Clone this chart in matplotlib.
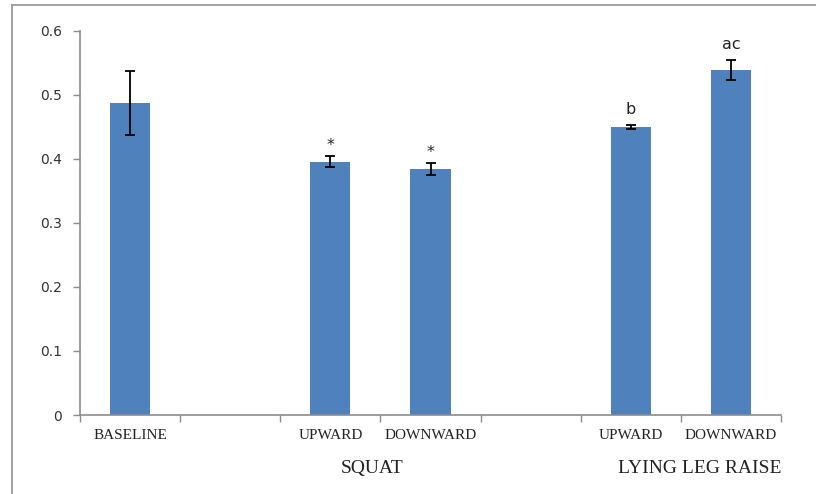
import matplotlib
matplotlib.use("Agg")
import matplotlib.pyplot as plt
from matplotlib.lines import Line2D

# ---- data ----
slots = ["BASELINE", "", "UPWARD", "DOWNWARD", "", "UPWARD", "DOWNWARD"]
values = [0.487, None, 0.396, 0.384, None, 0.450, 0.539]
errors = [0.050, None, 0.008, 0.0095, None, 0.003, 0.016]
marks = ["", "", "*", "*", "", "b", "ac"]
groups = ["SQUAT", "LYING LEG RAISE"]
yticks = [0, 0.1, 0.2, 0.3, 0.4, 0.5, 0.6]

bar_color = "#4F81BD"
axis_color = "#8C8C8C"

fig = plt.figure(figsize=(8.16, 4.94), dpi=100)
ax = fig.add_axes([80/816, 1-415/494, (781-80)/816, (415-31)/494])

xs = [i for i, v in enumerate(values) if v is not None]
vs = [v for v in values if v is not None]
es = [e for e in errors if e is not None]
ax.bar(xs, vs, width=0.4, color=bar_color, zorder=2)
ax.errorbar(xs, vs, yerr=es, fmt="none", ecolor="black", elinewidth=1.3,
            capsize=3.3, capthick=1.3, zorder=3)

for i, (v, e, m) in enumerate(zip(values, errors, marks)):
    if v is None or not m:
        continue
    ax.annotate(m, xy=(i, v + e), xytext=(0, 11 if m != "*" else 8),
                textcoords="offset points", ha="center", va="center",
                fontsize=11.5, family="DejaVu Sans", color="#222222")

ax.set_xlim(-0.5, len(slots) - 0.5)
ax.set_ylim(0, 0.6)
ax.set_yticks(yticks)
ax.set_yticklabels([("%g" % t) for t in yticks], family="DejaVu Sans",
                   fontsize=10, color="#333333")
ax.set_xticks([i - 0.5 for i in range(len(slots) + 1)])
ax.set_xticklabels([])
ax.set_xticks(range(len(slots)), minor=True)
ax.set_xticklabels(slots, minor=True, family="Liberation Serif",
                   fontsize=11, color="#222222")
ax.tick_params(axis="x", which="minor", length=0, pad=10)
ax.tick_params(axis="x", which="major", length=5, direction="out",
               color=axis_color, width=1)
ax.tick_params(axis="y", length=5, direction="out", color=axis_color,
               width=1, pad=8)

for s in ["top", "right"]:
    ax.spines[s].set_visible(False)
for s in ["left", "bottom"]:
    ax.spines[s].set_color(axis_color)
    ax.spines[s].set_linewidth(1.2)

# group labels
ax.text((372-80)/701, (415-468)/384, groups[0], transform=ax.transAxes,
        ha="center", va="center", family="Liberation Serif", fontsize=14,
        color="#222222")
ax.text(1.0, (415-468)/384, groups[1], transform=ax.transAxes,
        ha="right", va="center", family="Liberation Serif", fontsize=14,
        color="#222222")

# chart border (left and top visible)
fig.add_artist(Line2D([12/816, 12/816], [0, 1-5/494], transform=fig.transFigure,
                      color="#9A9A9A", lw=1.3))
fig.add_artist(Line2D([12/816, 1], [1-5/494, 1-5/494], transform=fig.transFigure,
                      color="#9A9A9A", lw=1.3))

fig.savefig("out.png", dpi=100)
